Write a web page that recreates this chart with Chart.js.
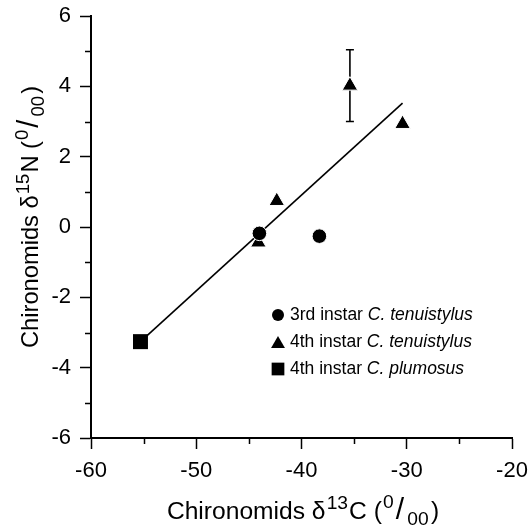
<!DOCTYPE html>
<html>
<head>
<meta charset="utf-8">
<script src="https://cdn.jsdelivr.net/npm/chart.js@4.4.1/dist/chart.umd.min.js"></script>
<style>
  html, body { margin: 0; padding: 0; background: #fff; }
  #chart { display: block; }
</style>
</head>
<body>
<canvas id="chart" width="528" height="529"></canvas>
<script>
// values
const circleX = [-44.0, -38.3];
const circleY = [-0.18, -0.26];
const triX = [-44.1, -42.35, -35.4, -30.4];
const triY = [-0.44, 0.74, 4.02, 2.93];
const triErr = [0, 0, 1.02, 0];
const squareX = [-55.3];
const squareY = [-3.26];
const fitX = [-55.3, -30.4];
const fitY = [-3.26, 3.52];

const xMajorTicks = [-60, -50, -40, -30, -20];
const yMajorTicks = [-6, -4, -2, 0, 2, 4, 6];

const legendPrefix = ["3rd instar ", "4th instar ", "4th instar "];
const legendSpecies = ["C. tenuistylus", "C. tenuistylus", "C. plumosus"];

const FONT = "'Liberation Sans', Arial, Helvetica, sans-serif";

const toPoints = (xs, ys) => xs.map((x, i) => ({ x: x, y: ys[i] }));

function drawMarker(ctx, style, radius, x, y) {
  ctx.beginPath();
  if (style === "circle") {
    ctx.arc(x, y, radius, 0, Math.PI * 2);
  } else if (style === "triangle") {
    let rad = 0;
    ctx.moveTo(x + Math.sin(rad) * radius, y - Math.cos(rad) * radius);
    rad += Math.PI * 2 / 3;
    ctx.lineTo(x + Math.sin(rad) * radius, y - Math.cos(rad) * radius);
    rad += Math.PI * 2 / 3;
    ctx.lineTo(x + Math.sin(rad) * radius, y - Math.cos(rad) * radius);
    ctx.closePath();
  } else {
    const s = Math.SQRT1_2 * radius;
    ctx.rect(x - s, y - s, 2 * s, 2 * s);
  }
  ctx.fill();
}

// text with super/subscripts, parts: [text, size, dy, gapAfter]
function drawRich(ctx, parts, cx, baseY, k) {
  let total = 0;
  const widths = parts.map(p => {
    ctx.font = (p[1] * k) + "px " + FONT;
    const w = ctx.measureText(p[0]).width + (p[3] || 0) * k;
    total += w;
    return w;
  });
  let x = cx - total / 2;
  parts.forEach((p, i) => {
    ctx.font = (p[1] * k) + "px " + FONT;
    ctx.fillText(p[0], x, baseY + p[2] * k);
    x += widths[i];
  });
}

function titleParts(iso, el) {
  return [["Chironomids \u03B4", 23, 0, 1], [iso, 18, -9, 1], [el + " (", 23, 0, 1],
    ["0", 18, -10, 2], ["/", 28, 0, 3], ["00", 18, 6, 2], [")", 23, 0, 0]];
}

const errorBars = {
  id: "errorBars",
  beforeDatasetsDraw(chart) {
    const ctx = chart.ctx, xs = chart.scales.x, ys = chart.scales.y;
    ctx.save();
    ctx.strokeStyle = "#000";
    ctx.lineWidth = 1.6;
    triX.forEach((v, i) => {
      if (!triErr[i]) return;
      const px = xs.getPixelForValue(v);
      const top = ys.getPixelForValue(triY[i] + triErr[i]);
      const bot = ys.getPixelForValue(triY[i] - triErr[i]);
      ctx.beginPath();
      ctx.moveTo(px, top); ctx.lineTo(px, bot);
      ctx.moveTo(px - 4, top); ctx.lineTo(px + 4, top);
      ctx.moveTo(px - 4, bot); ctx.lineTo(px + 4, bot);
      ctx.stroke();
    });
    ctx.restore();
  }
};

const minorTicks = {
  id: "minorTicks",
  afterDraw(chart) {
    const ctx = chart.ctx, xs = chart.scales.x, ys = chart.scales.y;
    ctx.save();
    ctx.strokeStyle = "#000";
    ctx.lineWidth = 1.5;
    ctx.beginPath();
    xs.ticks.forEach(t => {
      if (xMajorTicks.includes(t.value)) return;
      const px = Math.round(xs.getPixelForValue(t.value)) + 0.5;
      ctx.moveTo(px, xs.top); ctx.lineTo(px, xs.top + 6);
    });
    ys.ticks.forEach(t => {
      if (yMajorTicks.includes(t.value)) return;
      const py = Math.round(ys.getPixelForValue(t.value)) + 0.5;
      ctx.moveTo(ys.right, py); ctx.lineTo(ys.right - 6, py);
    });
    ctx.stroke();
    ctx.restore();
  }
};

const axisTitles = {
  id: "axisTitles",
  afterDraw(chart) {
    const ctx = chart.ctx;
    ctx.save();
    ctx.fillStyle = "#000";
    ctx.textBaseline = "alphabetic";
    drawRich(ctx, titleParts("13", "C"), 303, 519, 1.07);
    ctx.translate(38, 217);
    ctx.rotate(-Math.PI / 2);
    drawRich(ctx, titleParts("15", "N"), 0, 0, 1.03);
    ctx.restore();
  }
};

const insetLegend = {
  id: "insetLegend",
  afterDraw(chart) {
    const ctx = chart.ctx;
    const styles = [["circle", 6], ["triangle", 8], ["rect", 9]];
    const rows = [315, 342, 369];
    ctx.save();
    ctx.fillStyle = "#000";
    ctx.textBaseline = "middle";
    rows.forEach((ry, i) => {
      drawMarker(ctx, styles[i][0], styles[i][1], 278, i === 1 ? ry + 2 : ry);
      ctx.font = "17.5px " + FONT;
      ctx.fillText(legendPrefix[i], 290, ry);
      const w = ctx.measureText(legendPrefix[i]).width;
      ctx.font = "italic 17.5px " + FONT;
      ctx.fillText(legendSpecies[i], 290 + w, ry);
    });
    ctx.restore();
  }
};

new Chart(document.getElementById("chart"), {
  type: "scatter",
  data: {
    datasets: [
      {
        label: "3rd instar C. tenuistylus",
        data: toPoints(circleX, circleY),
        pointStyle: "circle",
        pointRadius: 7.3,
        backgroundColor: "#000",
        borderColor: "#fff",
        borderWidth: 1,
        order: 2
      },
      {
        label: "4th instar C. tenuistylus",
        data: toPoints(triX, triY),
        pointStyle: "triangle",
        pointRadius: 9,
        backgroundColor: "#000",
        borderColor: "#fff",
        borderWidth: 1,
        order: 3
      },
      {
        label: "4th instar C. plumosus",
        data: toPoints(squareX, squareY),
        pointStyle: "rect",
        pointRadius: 10.6,
        backgroundColor: "#000",
        borderWidth: 0,
        order: 1
      },
      {
        label: "fit",
        data: toPoints(fitX, fitY),
        showLine: true,
        pointRadius: 0,
        borderColor: "#000",
        borderWidth: 1.6,
        order: 5
      }
    ]
  },
  options: {
    responsive: false,
    animation: false,
    layout: { padding: { top: 16, right: 16, left: 0, bottom: 0 } },
    plugins: {
      legend: { display: false },
      tooltip: { enabled: false }
    },
    scales: {
      x: {
        type: "linear",
        min: -60,
        max: -20,
        afterFit: s => { s.height = 91; s.paddingLeft = 0; s.paddingRight = 0; },
        ticks: {
          stepSize: 5,
          autoSkip: false,
          maxRotation: 0,
          padding: 9,
          color: "#000",
          font: { family: FONT, size: 22 },
          callback: v => xMajorTicks.includes(v) ? String(v) : ""
        },
        grid: {
          drawOnChartArea: false,
          tickLength: 11,
          tickWidth: 1.5,
          tickColor: c => xMajorTicks.includes(c.tick.value) ? "#000" : "rgba(0,0,0,0)"
        },
        border: { display: true, color: "#000", width: 2 }
      },
      y: {
        type: "linear",
        min: -6,
        max: 6,
        afterFit: s => { s.width = 91; s.paddingTop = 0; s.paddingBottom = 0; },
        ticks: {
          stepSize: 1,
          autoSkip: false,
          padding: 9,
          color: "#000",
          font: { family: FONT, size: 22 },
          callback: v => yMajorTicks.includes(v) ? String(v) : ""
        },
        grid: {
          drawOnChartArea: false,
          tickLength: 11,
          tickWidth: 1.5,
          tickColor: c => yMajorTicks.includes(c.tick.value) ? "#000" : "rgba(0,0,0,0)"
        },
        border: { display: true, color: "#000", width: 2 }
      }
    }
  },
  plugins: [errorBars, minorTicks, axisTitles, insetLegend]
});
</script>
</body>
</html>
